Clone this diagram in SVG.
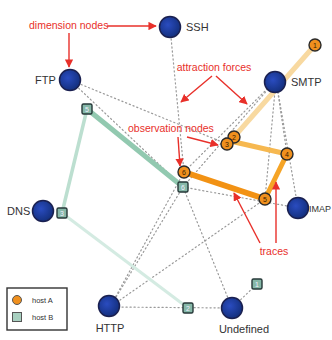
<svg xmlns="http://www.w3.org/2000/svg" width="332" height="340" viewBox="0 0 332 340">
<defs>
<marker id="ah" viewBox="0 0 10 10" refX="9" refY="5" markerWidth="6" markerHeight="6" orient="auto-start-reverse"><path d="M0,0 L10,5 L0,10 z" fill="#e8302a"/></marker>
<radialGradient id="bg" cx="0.4" cy="0.4" r="0.6"><stop offset="0" stop-color="#2a4cc0"/><stop offset="1" stop-color="#14307f"/></radialGradient>
</defs>
<style>
.dim circle{fill:url(#bg);stroke:#1a2050;stroke-width:1.5}
.lab{font-family:"Liberation Sans",Arial,sans-serif;font-size:11px;fill:#333}
.ann{font-family:"Liberation Sans",Arial,sans-serif;font-size:10.5px;fill:#e8302a}
.arr{stroke:#e8302a;stroke-width:1.4;fill:none;marker-end:url(#ah)}
.dot{stroke:#9a9a9a;stroke-width:1.2;stroke-dasharray:1.2 2.8;fill:none;stroke-linecap:round}
.oa circle{fill:#f0901e;stroke:#2a2a2a;stroke-width:1.4}
.ob rect{fill:#86b8a8;stroke:#263838;stroke-width:1.4}
.num{font-family:"Liberation Sans",Arial,sans-serif;font-size:7px;text-anchor:middle}
.oa .num{fill:#3a2200}
.ob .num{fill:#eef}
.leg{font-family:"Liberation Sans",Arial,sans-serif;font-size:7.5px;fill:#333}
</style>
<rect width="332" height="340" fill="#fff"/>
<g id="connectors">
<line class="dot" x1="170" y1="27" x2="184" y2="172"/>
<line class="dot" x1="70" y1="80" x2="183" y2="187"/>
<line class="dot" x1="70" y1="80" x2="227" y2="144"/>
<line class="dot" x1="276" y1="80" x2="184" y2="172"/>
<line class="dot" x1="276" y1="80" x2="183" y2="187"/>
<line class="dot" x1="276" y1="80" x2="287" y2="154"/>
<line class="dot" x1="276" y1="80" x2="265" y2="199"/>
<line class="dot" x1="276" y1="80" x2="298" y2="208"/>
<line class="dot" x1="110" y1="307" x2="184" y2="172"/>
<line class="dot" x1="110" y1="307" x2="183" y2="187"/>
<line class="dot" x1="110" y1="307" x2="265" y2="199"/>
<line class="dot" x1="110" y1="307" x2="232" y2="308"/>
<line class="dot" x1="232" y1="308" x2="183" y2="187"/>
<line class="dot" x1="232" y1="308" x2="257" y2="284"/>
<line class="dot" x1="183" y1="187" x2="298" y2="208"/>
<line x1="188" y1="308" x2="62" y2="213" stroke="#d4ebe2" stroke-width="3" stroke-linecap="round"/>
<line x1="62" y1="213" x2="87" y2="109" stroke="#bcdfd0" stroke-width="3.5" stroke-linecap="round"/>
<line x1="87" y1="109" x2="183" y2="187" stroke="#92c9b0" stroke-width="5" stroke-linecap="round"/>
<line x1="315" y1="45" x2="234" y2="137" stroke="#f8d9a0" stroke-width="5" stroke-linecap="round"/>
<line x1="234" y1="137" x2="227" y2="144" stroke="#f6b64a" stroke-width="5"/>
<line x1="230" y1="141" x2="287" y2="154" stroke="#f6b850" stroke-width="5" stroke-linecap="round"/>
<line x1="287" y1="154" x2="265" y2="199" stroke="#f5a426" stroke-width="5" stroke-linecap="round"/>
<line x1="265" y1="199" x2="184" y2="172" stroke="#f29214" stroke-width="6" stroke-linecap="round"/>
</g>
<g id="annotations">
<text class="ann" x="29" y="29">dimension nodes</text>
<line class="arr" x1="107" y1="26" x2="156" y2="26"/>
<line class="arr" x1="69" y1="33" x2="69" y2="67"/>
<text class="ann" x="214" y="71" text-anchor="middle">attraction forces</text>
<line class="arr" x1="212" y1="76" x2="181" y2="102"/>
<line class="arr" x1="216" y1="76" x2="247" y2="104"/>
<text class="ann" x="128" y="132">observation nodes</text>
<line class="arr" x1="187" y1="137" x2="218" y2="145"/>
<line class="arr" x1="178" y1="137" x2="180" y2="166"/>
<text class="ann" x="274" y="255" text-anchor="middle">traces</text>
<line class="arr" x1="260" y1="243" x2="234" y2="193"/>
<line class="arr" x1="276" y1="243" x2="276" y2="182"/>
</g>
<g id="SSH" class="dim"><circle cx="170" cy="27" r="10.5"/><text class="lab" x="186" y="31">SSH</text></g>
<g id="FTP" class="dim"><circle cx="70" cy="80" r="10.5"/><text class="lab" x="35" y="84">FTP</text></g>
<g id="SMTP" class="dim"><circle cx="275" cy="82" r="10.5"/><text class="lab" x="291" y="86">SMTP</text></g>
<g id="DNS" class="dim"><circle cx="43" cy="211" r="10.5"/><text class="lab" x="7" y="215">DNS</text></g>
<g id="IMAP" class="dim"><circle cx="298" cy="208" r="10.5"/><text class="lab" x="309" y="211.5" style="font-size:9px">IMAP</text></g>
<g id="HTTP" class="dim"><circle cx="109" cy="306" r="10.5"/><text class="lab" x="110" y="332" text-anchor="middle">HTTP</text></g>
<g id="Undefined" class="dim"><circle cx="232" cy="308" r="10.5"/><text class="lab" x="244" y="333" text-anchor="middle">Undefined</text></g>
<g id="A1" class="oa"><circle cx="315" cy="45" r="6"/><text class="num" x="315" y="47.5">1</text></g>
<g id="A2" class="oa"><circle cx="234" cy="137" r="6"/><text class="num" x="234" y="139.5">2</text></g>
<g id="A3" class="oa"><circle cx="227" cy="144" r="6"/><text class="num" x="227" y="146.5">3</text></g>
<g id="A4" class="oa"><circle cx="287" cy="154" r="6"/><text class="num" x="287" y="156.5">4</text></g>
<g id="A5" class="oa"><circle cx="265" cy="199" r="6"/><text class="num" x="265" y="201.5">5</text></g>
<g id="A6" class="oa"><circle cx="184" cy="172" r="6"/><text class="num" x="184" y="174.5">6</text></g>
<g id="B1" class="ob"><rect x="252" y="279" width="10" height="10" rx="1.5"/><text class="num" x="257" y="286.5">1</text></g>
<g id="B2" class="ob"><rect x="183" y="303" width="10" height="10" rx="1.5"/><text class="num" x="188" y="310.5">2</text></g>
<g id="B3" class="ob"><rect x="57" y="208" width="10" height="10" rx="1.5"/><text class="num" x="62" y="215.5">3</text></g>
<g id="B5" class="ob"><rect x="82" y="104" width="10" height="10" rx="1.5"/><text class="num" x="87" y="111.5">5</text></g>
<g id="B6" class="ob"><rect x="178" y="182" width="10" height="10" rx="1.5"/><text class="num" x="183" y="189.5">6</text></g>
<g id="legend">
<rect x="7" y="288" width="60" height="42" fill="#fff" stroke="#333" stroke-width="1.4"/>
<circle cx="17" cy="300" r="4.5" fill="#f0901e" stroke="#555" stroke-width="1"/>
<rect x="12.5" y="312.5" width="9" height="9" fill="#a8d0c0" stroke="#555" stroke-width="1"/>
<text class="leg" x="32" y="302.5">host A</text>
<text class="leg" x="32" y="319.5">host B</text>
</g>
</svg>
